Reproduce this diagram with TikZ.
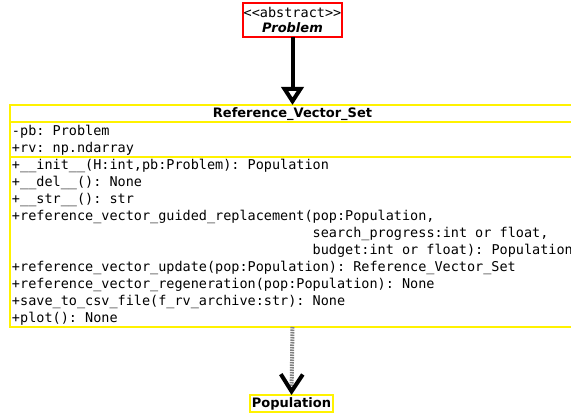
\documentclass[tikz,border=0pt]{standalone}
\usepackage{fontspec}
\setmainfont{DejaVu Sans}
\setsansfont{DejaVu Sans}
\setmonofont{DejaVu Sans Mono}
\usetikzlibrary{arrows.meta}
\usetikzlibrary{positioning}
\def\mono{\fontsize{13.5}{17}\selectfont\ttfamily}
\def\head{\fontsize{13}{16}\selectfont\bfseries}
\def\ws{\hspace*{0.602em}}

\begin{document}
\begin{tikzpicture}[x=1pt,y=1pt,
    umlbox/.style={draw=yellow,line width=2pt,outer sep=0pt,inner xsep=1pt,inner ysep=0pt,minimum width=565pt},
    umlpart/.style={umlbox,text width=561pt,align=left,font=\mono},
    abstractbox/.style={draw=red,line width=2pt,outer sep=0pt,inner sep=1pt,minimum width=99pt,minimum height=34pt,align=center},
    inherit/.style={line width=4pt,-{Triangle[open,length=18pt,width=22pt]}},
    uses/.style={line width=4pt,draw=black!50,dash pattern=on 1.5pt off 1pt,-{Straight Barb[length=17pt,width=22pt,color=black]}}]
    \clip (0,0) rectangle (571,418);
    % Abstract class
    \node[abstractbox] (problem) at (292.5,398) {{\mono<{}<abstract>{}>}\\[3pt]{\head\itshape Problem}};
    % Class box
    \node[umlbox,minimum height=17.5pt,font=\head] (refset) at (292.5,304.25) {Reference\_Vector\_Set};
    \node[umlpart,minimum height=34.5pt,below=0pt of refset] (attrs) {-pb:\ws Problem\\+rv:\ws np.ndarray};
    \node[umlpart,minimum height=170pt,below=0pt of attrs] (methods) {+\_\_init\_\_(H:int,pb:Problem):\ws Population\\
+\_\_del\_\_():\ws None\\
+\_\_str\_\_():\ws str\\
+reference\_vector\_guided\_replacement(pop:Population,\\
\hphantom{+reference\_vector\_guided\_replacement(}search\_progress:int\ws or\ws float,\\
\hphantom{+reference\_vector\_guided\_replacement(}budget:int\ws or\ws float):\ws Population\\
+reference\_vector\_update(pop:Population):\ws Reference\_Vector\_Set\\
+reference\_vector\_regeneration(pop:Population):\ws None\\
+save\_to\_csv\_file(f\_rv\_archive:str):\ws None\\
+plot():\ws None};
    % Used class
    \node[umlbox,minimum width=83pt,minimum height=17pt,font=\head] (population) at (291.5,14.5) {Population};
    % Connectors
    \draw[inherit] (problem) -- (refset);
    \draw[uses] (methods.south) -- (population.north);
\end{tikzpicture}
\end{document}
